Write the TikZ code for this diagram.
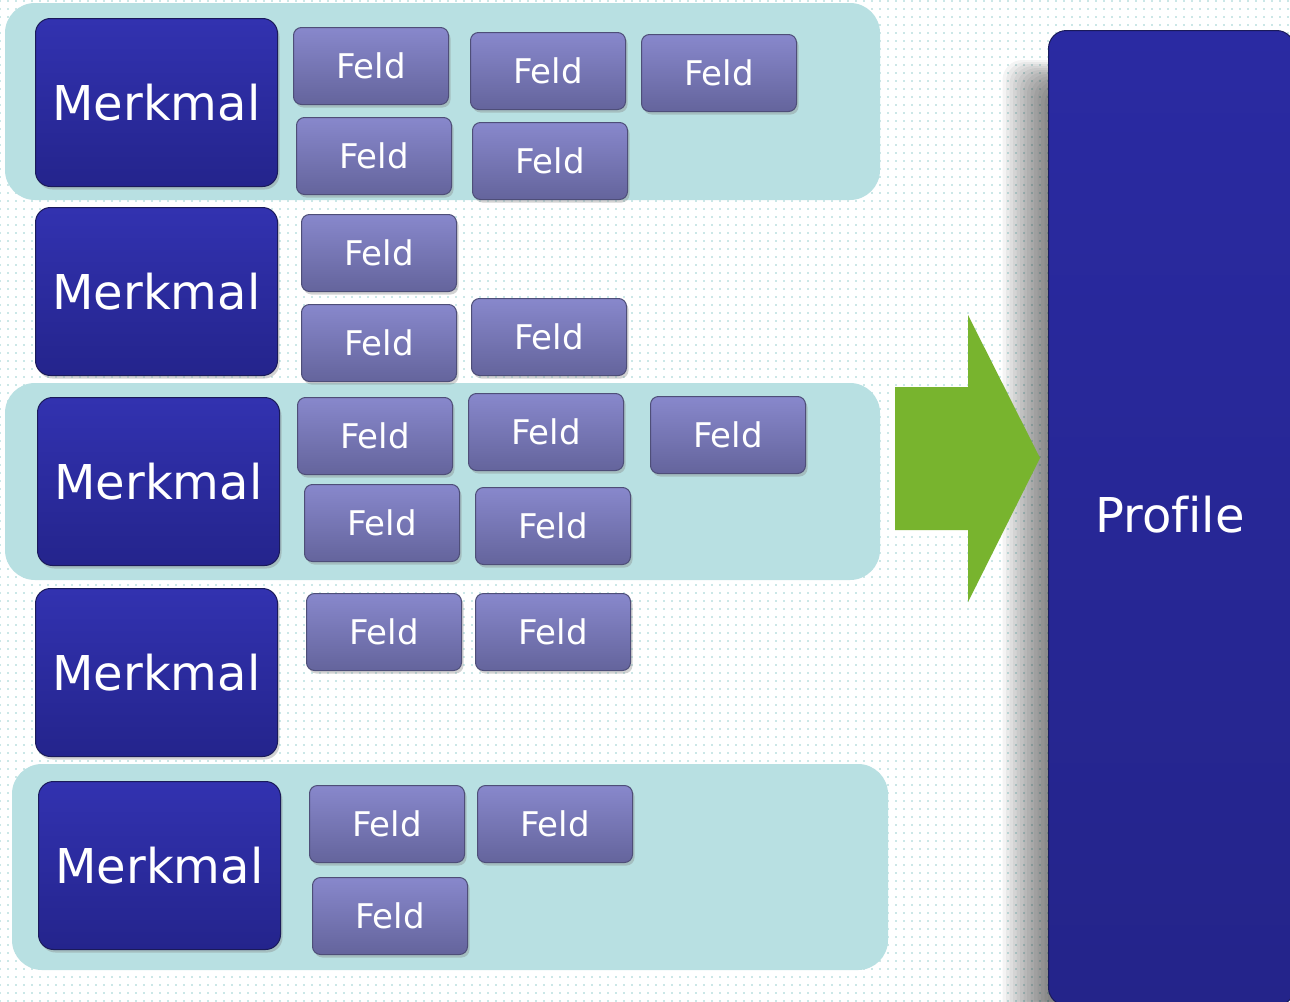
\documentclass[tikz,border=0pt]{standalone}
\usepackage{fontspec}
\setmainfont[Ligatures=NoCommon]{DejaVu Sans}
\usetikzlibrary{shadows,fadings,patterns.meta}
\definecolor{bandc}{RGB}{184,224,226}
\definecolor{dotc}{RGB}{150,208,208}
\definecolor{mtop}{RGB}{50,50,176}
\definecolor{mbot}{RGB}{36,36,140}
\definecolor{mline}{RGB}{26,26,90}
\definecolor{ftop}{RGB}{136,136,204}
\definecolor{fbot}{RGB}{100,100,156}
\definecolor{fline}{RGB}{78,78,120}
\definecolor{ptop}{RGB}{42,42,162}
\definecolor{pbot}{RGB}{36,36,138}
\definecolor{arrc}{RGB}{120,180,46}
\tikzset{
  band/.style={fill=bandc, rounded corners=30pt},
  merk/.style={anchor=north west, rounded corners=15pt, draw=mline, line width=1pt,
    top color=mtop, bottom color=mbot, text=white, minimum width=242pt, minimum height=168pt,
    font=\fontsize{48}{48}\selectfont, inner sep=0pt,
    drop shadow={shadow xshift=2pt, shadow yshift=-3pt, opacity=0.35}},
  feld/.style={anchor=north west, rounded corners=8pt, draw=fline, line width=1pt,
    top color=ftop, bottom color=fbot, text=white, minimum width=155pt, minimum height=77pt,
    font=\fontsize{34}{34}\selectfont, inner sep=0pt,
    drop shadow={shadow xshift=2pt, shadow yshift=-3pt, opacity=0.35}},
}
\begin{document}
\begin{tikzpicture}[x=1pt,y=-1pt]
\useasboundingbox (0,0) rectangle (1290,1001);
\clip (0,0) rectangle (1290,1001);
\fill[white] (0,0) rectangle (1290,1001);
\fill[pattern={Dots[distance=8pt, radius=0.8pt]}, pattern color=dotc] (0,0) rectangle (1290,1001);
% bands
\fill[band] (5,3) rectangle (880,200);
\fill[band] (5,383) rectangle (880,580);
\fill[band] (12,764) rectangle (888,970);
% soft shadow of profile
\foreach \i in {0,...,13}{
  \fill[black, opacity=0.045, rounded corners=20pt] (1048-3.5*\i,86-2*\i) rectangle (1100,1060);
}
% arrow
\fill[arrc] (895,387) -- (968,387) -- (968,315) -- (1040,458) -- (968,602) -- (968,530) -- (895,530) -- cycle;
% profile
\node[anchor=north west, rounded corners=18pt, draw=mline, line width=1pt,
  top color=ptop, bottom color=pbot, text=white, minimum width=246pt, minimum height=975pt,
  inner sep=0pt] (prof) at (1048,30) {};
\node[text=white, font=\fontsize{48}{48}\selectfont] (proft) at (1170,515) {Profile};
% Merkmal
\node[merk] (m1) at (35,18) {Merkmal};
\node[merk] (m2) at (35,207) {Merkmal};
\node[merk] (m3) at (37,397) {Merkmal};
\node[merk] (m4) at (35,588) {Merkmal};
\node[merk] (m5) at (38,781) {Merkmal};
% Feld
\node[feld] (f11) at (293,27) {Feld};
\node[feld] (f12) at (470,32) {Feld};
\node[feld] (f13) at (641,34) {Feld};
\node[feld] (f14) at (296,117) {Feld};
\node[feld] (f15) at (472,122) {Feld};
\node[feld] (f21) at (301,214) {Feld};
\node[feld] (f22) at (301,304) {Feld};
\node[feld] (f23) at (471,298) {Feld};
\node[feld] (f31) at (297,397) {Feld};
\node[feld] (f32) at (468,393) {Feld};
\node[feld] (f33) at (650,396) {Feld};
\node[feld] (f34) at (304,484) {Feld};
\node[feld] (f35) at (475,487) {Feld};
\node[feld] (f41) at (306,593) {Feld};
\node[feld] (f42) at (475,593) {Feld};
\node[feld] (f51) at (309,785) {Feld};
\node[feld] (f52) at (477,785) {Feld};
\node[feld] (f53) at (312,877) {Feld};
\end{tikzpicture}
\end{document}
